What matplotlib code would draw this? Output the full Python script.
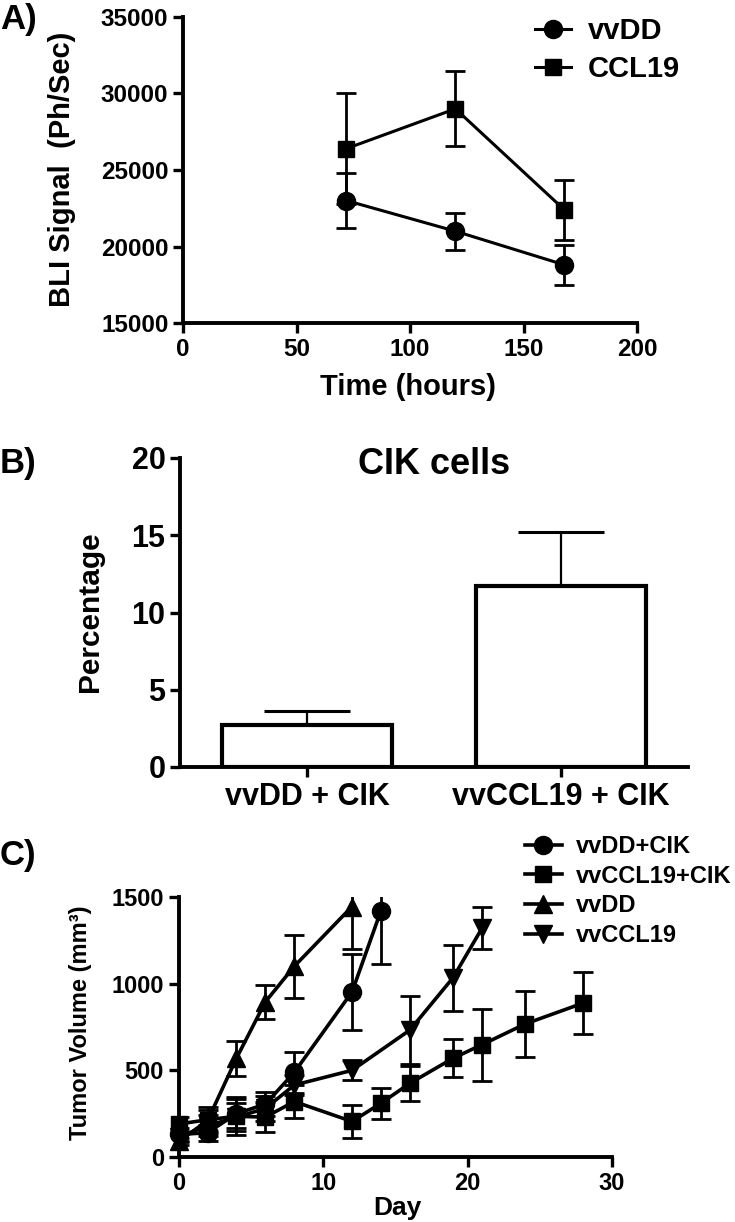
import matplotlib
matplotlib.use("Agg")
import matplotlib.pyplot as plt

plt.rcParams["font.family"] = ["Liberation Sans", "DejaVu Sans"]
plt.rcParams["font.weight"] = "bold"

# panel A - BLI signal
hours = [72, 120, 168]
vvdd_bli = [23000, 21000, 18800]
vvdd_bli_err = [1800, 1200, 1300]
ccl19_bli = [26400, 29000, 22400]
ccl19_bli_err = [3600, 2450, 1950]

# panel B - CIK cells
groups = ["vvDD + CIK", "vvCCL19 + CIK"]
pct = [2.72, 11.7]
pct_err = [0.9, 3.5]

# panel C - tumour volume
days_a = [0, 2, 4, 6, 8, 12, 14]
vvdd_cik = [130, 140, 250, 305, 488, 952, 1420]
vvdd_cik_err = [40, 45, 85, 70, 120, 220, 306]

days_b = [0, 2, 4, 6, 8, 12, 14, 16, 19, 21, 24, 28]
ccl19_cik = [190, 215, 235, 230, 320, 205, 310, 425, 570, 648, 768, 888]
ccl19_cik_err = [40, 75, 110, 87, 95, 95, 88, 100, 108, 207, 190, 177]

days_c = [0, 2, 4, 6, 8, 12]
vvdd = [90, 210, 570, 895, 1100, 1445]
vvdd_err = [20, 60, 100, 100, 180, 245]

days_d = [0, 2, 4, 6, 8, 12, 16, 19, 21]
vvccl19 = [115, 180, 230, 280, 415, 500, 732, 1035, 1320]
vvccl19_err = [30, 60, 80, 70, 60, 57, 196, 190, 120]

W, H = 735, 1222
fig = plt.figure(figsize=(W / 100, H / 100), dpi=100)


def box(l, r, t, b):
    return [l / W, 1 - b / H, (r - l) / W, (b - t) / H]


def style(ax, size):
    for s in ["top", "right"]:
        ax.spines[s].set_visible(False)
    for s in ["left", "bottom"]:
        ax.spines[s].set_linewidth(2.8)
    ax.tick_params(direction="out", length=7, width=2.4, labelsize=size)
    for lab in ax.get_xticklabels() + ax.get_yticklabels():
        lab.set_fontweight("bold")


def series(ax, x, y, e, marker, ms, lw, cap, label):
    ax.errorbar(x, y, yerr=e, fmt="none", ecolor="black", elinewidth=2,
                capsize=cap, capthick=2)
    ax.plot(x, y, color="black", lw=lw, marker=marker, ms=ms,
            clip_on=False, label=label, zorder=3)


# ---- A ----
axA = fig.add_axes(box(183, 637, 17, 323))
series(axA, hours, vvdd_bli, vvdd_bli_err, "o", 13, 2.2, 7.5, "vvDD")
series(axA, hours, ccl19_bli, ccl19_bli_err, "s", 12, 2.2, 7.5, "CCL19")
axA.set_xlim(0, 200)
axA.set_ylim(15000, 35000)
axA.set_xticks([0, 50, 100, 150, 200])
axA.set_yticks([15000, 20000, 25000, 30000, 35000])
style(axA, 17.5)
axA.legend(loc="upper left", bbox_to_anchor=(535 / W, 1 - 17 / H),
           bbox_transform=fig.transFigure, frameon=False,
           prop={"size": 21, "weight": "bold"}, handlelength=1.25,
           handletextpad=0.55, labelspacing=0.35, borderpad=0, borderaxespad=0)
fig.text(408 / W, 1 - 387 / H, "Time (hours)", ha="center", va="center",
         fontsize=21, fontweight="bold")
fig.text(62 / W, 1 - 169 / H, "BLI Signal  (Ph/Sec)", ha="center", va="center",
         rotation=90, fontsize=21, fontweight="bold")
fig.text(0, 1 - 20 / H, "A)", ha="left", va="center", fontsize=25,
         fontweight="bold")

# ---- B ----
axB = fig.add_axes(box(180, 688, 458, 767))
xpos = [0, 1]
axB.bar(xpos, pct, width=0.667, color="white", edgecolor="black",
        linewidth=3, zorder=2)
axB.errorbar(xpos, pct, yerr=[[0, 0], pct_err], fmt="none", ecolor="black",
             elinewidth=1.6, capsize=31, capthick=2.2, zorder=1)
axB.set_xlim(-0.5, 1.5)
axB.set_ylim(0, 20)
axB.set_xticks(xpos)
axB.set_xticklabels(groups)
axB.set_yticks([0, 5, 10, 15, 20])
style(axB, 22)
fig.text(434 / W, 1 - 465 / H, "CIK cells", ha="center", va="center",
         fontsize=26, fontweight="bold")
fig.text(90 / W, 1 - 612 / H, "Percentage", ha="center", va="center",
         rotation=90, fontsize=21.5, fontweight="bold")
fig.text(0, 1 - 463 / H, "B)", ha="left", va="center", fontsize=25,
         fontweight="bold")

# ---- C ----
axC = fig.add_axes(box(178.7, 612, 897, 1157))
series(axC, days_a, vvdd_cik, vvdd_cik_err, "o", 13, 2.6, 7, "vvDD+CIK")
series(axC, days_b, ccl19_cik, ccl19_cik_err, "s", 11.5, 2.6, 7, "vvCCL19+CIK")
series(axC, days_c, vvdd, vvdd_err, "^", 12.5, 2.6, 7, "vvDD")
series(axC, days_d, vvccl19, vvccl19_err, "v", 12.5, 2.6, 7, "vvCCL19")
axC.set_xlim(0, 30)
axC.set_ylim(0, 1500)
axC.set_xticks([0, 10, 20, 30])
axC.set_yticks([0, 500, 1000, 1500])
style(axC, 17)
axC.legend(loc="upper left", bbox_to_anchor=(525 / W, 1 - 835 / H),
           bbox_transform=fig.transFigure, frameon=False,
           prop={"size": 17, "weight": "bold"}, handlelength=1.55,
           handletextpad=0.6, labelspacing=0.28, borderpad=0, borderaxespad=0)
fig.text(397 / W, 1 - 1208 / H, "Day", ha="center", va="center",
         fontsize=19, fontweight="bold")
fig.text(80 / W, 1 - 1023 / H, "Tumor Volume (mm³)", ha="center",
         va="center", rotation=90, fontsize=17, fontweight="bold")
fig.text(0, 1 - 855 / H, "C)", ha="left", va="center", fontsize=25,
         fontweight="bold")

fig.savefig("out.png", dpi=100)
